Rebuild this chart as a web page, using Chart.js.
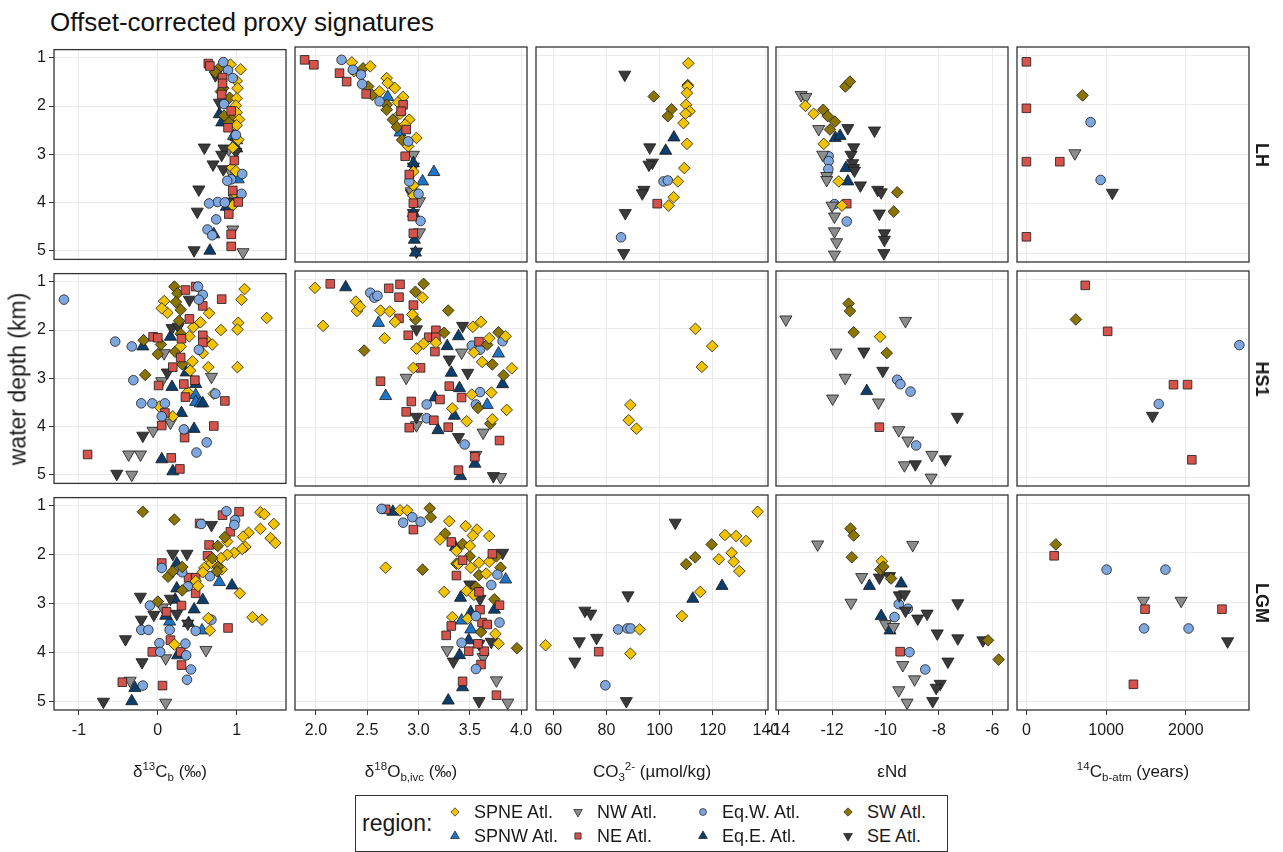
<!DOCTYPE html>
<html>
<head>
<meta charset="utf-8">
<script src="https://cdn.jsdelivr.net/npm/chart.js@4.4.1/dist/chart.umd.min.js"></script>
<style>
  body { margin: 0; background: #fff; font-family: "Liberation Sans", Arial, Helvetica, sans-serif; }
  #fig { position: relative; width: 1283px; height: 852px; overflow: hidden; background: #fff; }
  #fig canvas { position: absolute; }
  .txt { position: absolute; color: #1a1a1a; white-space: nowrap; line-height: 1; }
  sup, sub { font-size: 68%; line-height: 0; }
  #legend { position: absolute; left: 355px; top: 795px; width: 591px; height: 55px; border: 1px solid #333; background: #fff; }
</style>
</head>
<body>
<div id="fig"></div>
<script>
// regions (legend order) and how each one is drawn
const regionCodes = ['SPNE', 'SPNW', 'NW', 'NE', 'EqW', 'EqE', 'SW', 'SE'];
const regionNames = ['SPNE Atl.', 'SPNW Atl.', 'NW Atl.', 'NE Atl.', 'Eq.W. Atl.', 'Eq.E. Atl.', 'SW Atl.', 'SE Atl.'];
const regionColors = ['#F2C400', '#1E74C6', '#8C8C8C', '#D6534B', '#7EA7E0', '#0B3D6D', '#8B7400', '#3A3A3A'];
const regionShapes = ['rectRot', 'triangle', 'triangle', 'rect', 'circle', 'triangle', 'rectRot', 'triangle'];
const regionRotation = [0, 0, 180, 0, 0, 0, 0, 180];
const regionRadius = [5.8, 7, 7, 6.1, 4.8, 7, 5.8, 7];

const periods = ['LH', 'HS1', 'LGM'];
const depthTicks = [1, 2, 3, 4, 5];
const d13cTicks = [-1, 0, 1];
const d18oTicks = [2.0, 2.5, 3.0, 3.5, 4.0];
const co3Ticks = [60, 80, 100, 120, 140];
const endTicks = [-14, -12, -10, -8, -6];
const c14Ticks = [0, 1000, 2000];

// [region, [[proxy value, water depth km], ...]]
const lhD13C = [
  ['NE', [[0.64, 1.12], [0.66, 1.17], [0.82, 1.41], [0.82, 1.53], [0.81, 1.76], [0.93, 2.10], [0.89, 2.45], [0.97, 3.13], [0.95, 3.75], [1.02, 3.99], [0.90, 4.24], [0.93, 4.66], [0.93, 4.91]]],
  ['EqW', [[0.83, 1.09], [0.89, 1.26], [0.95, 1.42], [0.84, 1.96], [0.99, 2.60], [1.07, 3.41], [0.93, 3.52], [0.88, 3.55], [1.06, 3.82], [0.76, 3.99], [0.65, 4.02], [0.85, 4.00], [0.74, 4.35], [0.63, 4.56], [0.69, 4.68]]],
  ['SPNE', [[0.92, 1.14], [1.05, 1.24], [1.00, 1.48], [1.01, 1.63], [1.00, 1.84], [0.99, 1.99], [1.00, 2.13], [1.03, 2.28], [1.00, 2.40], [0.95, 2.86], [0.94, 3.28], [0.99, 3.35], [0.95, 4.06], [0.97, 3.80], [1.02, 2.70]]],
  ['SW', [[0.78, 1.21], [0.73, 1.30], [0.83, 1.63], [0.91, 1.83], [0.95, 2.23], [0.90, 2.34], [0.84, 2.20], [0.80, 1.70]]],
  ['SE', [[0.73, 1.36], [0.78, 1.93], [0.59, 2.86], [0.84, 2.88], [0.81, 3.01], [0.70, 3.21], [0.83, 3.31], [0.52, 3.73], [0.50, 4.19], [0.46, 4.99], [0.99, 2.95], [0.93, 3.98]]],
  ['NW', [[0.95, 4.56], [1.08, 5.03], [0.93, 3.38], [0.97, 3.92], [0.90, 2.90]]],
  ['EqE', [[0.78, 2.17], [0.81, 2.34], [0.99, 2.64], [1.00, 2.88], [0.87, 4.09], [0.71, 4.66], [0.66, 5.00]]],
  ['SPNW', [[1.00, 2.71], [1.02, 3.52], [0.96, 2.62]]]
];
const lhD18O = [
  ['NE', [[1.89, 1.09], [1.98, 1.19], [2.23, 1.36], [2.30, 1.53], [2.49, 1.78], [2.85, 2.00], [2.83, 2.13], [2.88, 2.50], [2.87, 3.04], [2.91, 3.41], [2.95, 3.99], [2.94, 4.26], [2.95, 4.60]]],
  ['EqW', [[2.25, 1.09], [2.36, 1.29], [2.44, 1.39], [2.45, 1.58], [2.62, 1.93], [2.90, 2.74], [2.91, 3.55], [3.00, 3.80], [3.02, 4.35]]],
  ['SPNE', [[2.35, 1.14], [2.53, 1.22], [2.37, 1.32], [2.69, 1.46], [2.70, 1.56], [2.77, 1.66], [2.62, 1.73], [2.85, 1.84], [2.80, 1.95], [2.82, 2.18], [2.91, 2.30], [2.87, 2.40], [2.98, 2.67], [2.90, 2.84], [2.95, 3.35], [2.95, 3.63], [2.95, 3.84]]],
  ['SW', [[2.46, 1.26], [2.51, 1.63], [2.55, 1.80], [2.69, 2.00], [2.69, 2.10], [2.75, 2.30], [2.79, 2.45], [2.84, 2.71]]],
  ['SPNW', [[2.70, 1.84], [2.82, 2.56], [3.15, 3.36], [3.04, 3.55]]],
  ['EqE', [[2.95, 3.18], [2.96, 4.73], [2.97, 4.99], [2.95, 4.19]]],
  ['NW', [[2.95, 3.01], [3.01, 3.95], [3.01, 4.58], [2.93, 3.75]]],
  ['SE', [[2.95, 4.19], [2.98, 4.97], [2.93, 3.79], [2.95, 3.25]]]
];
const lhCO3 = [
  ['SPNE', [[110.8, 1.16], [110.6, 1.63], [110.3, 1.76], [110.0, 2.00], [111.3, 2.13], [109.8, 2.18], [109.0, 2.37], [110.3, 2.79], [109.3, 3.28], [106.9, 3.55], [105.3, 3.87], [103.4, 4.04]]],
  ['SW', [[97.8, 1.83], [104.5, 2.09], [103.1, 2.23], [110.6, 1.60]]],
  ['SE', [[86.9, 1.39], [96.3, 2.86], [97.3, 3.17], [96.0, 3.21], [94.1, 3.72], [93.5, 3.79], [87.1, 4.19], [86.5, 5.00]]],
  ['EqE', [[105.4, 2.66], [102.3, 2.93]]],
  ['EqW', [[101.5, 3.55], [103.1, 3.53], [85.5, 4.68]]],
  ['NE', [[99.1, 4.00]]]
];
const lhENd = [
  ['SW', [[-11.50, 1.63], [-11.33, 1.53], [-12.33, 2.10], [-12.16, 2.23], [-11.89, 2.34], [-12.08, 2.50], [-9.56, 3.77], [-9.69, 4.16]]],
  ['SPNE', [[-13.00, 2.02], [-12.69, 2.18], [-12.31, 2.79], [-11.75, 3.55], [-11.63, 4.04]]],
  ['NW', [[-13.16, 1.80], [-12.98, 1.84], [-12.50, 2.49], [-12.35, 3.01], [-12.20, 3.44], [-12.20, 3.52], [-12.00, 4.04], [-11.91, 4.26], [-11.91, 4.56], [-11.83, 4.78], [-11.91, 5.03]]],
  ['SE', [[-11.41, 2.47], [-10.41, 2.52], [-11.19, 2.86], [-11.29, 3.01], [-11.23, 3.18], [-11.20, 3.28], [-11.16, 3.33], [-10.94, 3.63], [-10.29, 3.72], [-10.16, 3.77], [-10.23, 4.20], [-10.04, 4.60], [-10.04, 4.73], [-10.06, 5.00]]],
  ['EqE', [[-11.88, 2.67], [-11.70, 2.63], [-11.48, 3.28], [-11.41, 3.55]]],
  ['EqW', [[-12.13, 3.04], [-12.13, 3.14], [-12.14, 3.30], [-11.91, 4.01], [-11.45, 4.36]]],
  ['NE', [[-11.45, 4.00]]]
];
const lh14C = [
  ['NE', [[0, 1.13], [0, 2.07], [0, 3.15], [419, 3.15], [0, 4.67]]],
  ['SW', [[704, 1.81]]],
  ['EqW', [[805, 2.35], [931, 3.52]]],
  ['NW', [[608, 2.98]]],
  ['SE', [[1078, 3.78]]]
];

const hsD13C = [
  ['EqW', [[-1.19, 1.37], [-0.54, 2.24], [-0.33, 2.34], [-0.31, 3.04], [-0.21, 3.52], [-0.07, 3.52], [0.09, 3.52], [0.05, 3.79], [0.33, 4.06], [0.51, 1.10], [0.57, 1.27], [0.52, 1.37], [0.52, 2.41], [0.73, 3.32], [0.62, 4.33], [0.49, 4.54]]],
  ['NE', [[0.35, 1.17], [0.48, 1.10], [0.81, 1.36], [0.57, 1.50], [0.40, 1.77], [-0.06, 2.14], [0.00, 2.16], [0.30, 2.18], [0.57, 2.11], [0.57, 2.26], [0.29, 2.57], [0.19, 2.77], [0.33, 3.12], [0.47, 3.04], [0.01, 3.15], [0.35, 3.39], [0.85, 3.47], [0.09, 3.72], [0.05, 3.98], [0.71, 3.99], [0.34, 4.23], [-0.89, 4.58], [0.17, 4.65], [0.28, 4.88]]],
  ['SPNE', [[1.10, 1.15], [1.06, 1.37], [1.38, 1.75], [1.02, 1.85], [1.01, 1.99], [0.80, 2.00], [0.65, 1.65], [0.54, 1.84], [0.45, 1.94], [0.40, 2.13], [0.29, 2.34], [0.60, 2.19], [0.69, 2.30], [0.57, 2.48], [0.44, 2.65], [0.41, 2.84], [0.64, 2.77], [1.01, 2.77], [0.38, 3.29], [0.08, 1.40], [0.12, 1.64], [0.02, 3.59], [0.19, 3.79], [0.71, 3.32], [0.05, 1.55]]],
  ['SW', [[0.21, 1.10], [0.25, 1.24], [0.23, 1.42], [0.29, 1.58], [0.27, 1.81], [0.29, 2.08], [-0.18, 2.21], [0.04, 2.30], [0.00, 2.50], [0.22, 2.45], [0.31, 2.71], [-0.16, 2.93]]],
  ['SE', [[0.40, 1.37], [0.18, 1.96], [0.26, 1.93], [0.12, 2.88], [-0.19, 4.19], [-0.52, 4.98]]],
  ['NW', [[0.08, 2.48], [0.05, 3.06], [0.68, 2.97], [0.16, 3.92], [-0.06, 4.09], [-0.37, 4.58], [-0.22, 4.58], [-0.33, 5.00]]],
  ['EqE', [[0.16, 2.14], [-0.19, 2.34], [0.36, 2.88], [0.18, 3.18], [0.30, 3.72], [0.46, 4.05], [0.05, 4.68], [0.19, 4.93], [0.57, 3.52], [0.48, 3.12]]],
  ['SPNW', [[0.48, 3.35], [0.48, 3.49], [0.54, 3.52]]]
];
const hsD18O = [
  ['SPNE', [[1.99, 1.17], [2.07, 1.94], [2.39, 1.45], [2.40, 1.64], [2.43, 1.55], [2.63, 1.63], [2.72, 1.65], [2.77, 1.86], [2.67, 2.19], [3.04, 1.37], [2.94, 1.71], [2.98, 2.40], [3.05, 2.30], [3.17, 2.28], [2.95, 2.79], [3.53, 1.96], [3.61, 1.86], [3.69, 2.19], [3.54, 2.48], [3.62, 2.67], [3.85, 2.15], [3.91, 2.80], [3.52, 3.33], [3.71, 3.29], [3.33, 3.61], [3.47, 3.87], [3.86, 3.64], [3.72, 3.83]]],
  ['SW', [[3.05, 1.09], [2.97, 1.25], [3.29, 1.63], [2.97, 1.81], [2.47, 2.44], [3.25, 2.08], [3.78, 2.07], [3.67, 2.32], [3.72, 2.72], [3.83, 2.94], [3.58, 3.60], [3.70, 3.92]]],
  ['NE', [[2.14, 1.09], [2.71, 1.18], [2.82, 1.10], [2.81, 1.36], [2.95, 1.52], [2.81, 1.79], [2.90, 2.13], [3.10, 2.17], [3.17, 2.03], [3.17, 2.17], [3.16, 2.46], [3.02, 2.79], [2.63, 3.06], [2.93, 3.47], [2.88, 3.68], [2.91, 4.00], [3.15, 3.85], [3.21, 3.43], [3.29, 3.99], [3.30, 3.16], [3.42, 3.39], [3.59, 2.26], [3.79, 4.26], [3.55, 4.59], [3.39, 4.86]]],
  ['EqW', [[2.53, 1.27], [2.57, 1.37], [2.60, 1.33], [3.52, 2.34], [3.60, 2.42], [3.82, 2.25], [3.60, 3.28], [3.08, 3.53], [3.08, 3.81], [3.45, 4.34], [3.56, 3.53]]],
  ['EqE', [[2.29, 1.16], [3.39, 2.15], [3.28, 2.35], [3.32, 2.89], [3.40, 3.20], [3.35, 3.76], [3.19, 4.05], [3.82, 3.12], [3.55, 4.73], [3.41, 4.98], [3.16, 3.39]]],
  ['SPNW', [[2.61, 1.88], [2.68, 3.36], [3.78, 2.50], [3.67, 3.54]]],
  ['SE', [[2.98, 2.01], [3.43, 1.94], [3.30, 2.62], [3.48, 2.89], [2.98, 3.78], [3.39, 4.19], [3.73, 4.98]]],
  ['NW', [[2.88, 2.99], [3.42, 2.48], [2.98, 3.95], [3.63, 4.10], [3.80, 5.00], [3.56, 4.55]]]
];
const hsCO3 = [
  ['SPNE', [[113.5, 2.00], [119.8, 2.35], [115.9, 2.77], [89.0, 3.54], [88.4, 3.85], [91.3, 4.02]]]
];
const hsENd = [
  ['SW', [[-11.38, 1.49], [-11.33, 1.64], [-11.19, 2.07], [-9.95, 2.49]]],
  ['SPNE', [[-10.20, 2.16]]],
  ['NW', [[-13.73, 1.81], [-9.25, 1.84], [-11.85, 2.48], [-11.51, 2.99], [-11.98, 3.41], [-10.26, 3.49], [-9.50, 4.05], [-9.16, 4.26], [-8.26, 4.55], [-9.29, 4.76], [-8.29, 5.01]]],
  ['SE', [[-10.81, 2.46], [-10.10, 2.85], [-7.31, 3.78], [-8.88, 4.74], [-7.76, 4.64]]],
  ['EqE', [[-10.70, 3.26]]],
  ['EqW', [[-9.56, 3.03], [-9.44, 3.12], [-9.06, 3.27], [-8.85, 4.36]]],
  ['NE', [[-10.23, 3.99]]]
];
const hs14C = [
  ['NE', [[738, 1.12], [1019, 2.05], [1845, 3.13], [2021, 3.13], [2075, 4.65]]],
  ['SW', [[620, 1.81]]],
  ['EqW', [[2671, 2.33], [1660, 3.52]]],
  ['SE', [[1581, 3.76]]]
];

const lgmD13C = [
  ['SW', [[-0.19, 1.12], [0.21, 1.28], [0.85, 1.64], [0.76, 1.82], [0.69, 2.07], [0.76, 2.25], [0.75, 2.34], [0.13, 2.45], [0.19, 2.34], [0.31, 2.25], [0.31, 2.73], [0.00, 2.96]]],
  ['SPNE', [[1.30, 1.13], [1.35, 1.17], [1.47, 1.37], [1.30, 1.47], [1.15, 1.55], [1.08, 1.63], [1.43, 1.66], [1.49, 1.76], [1.11, 1.84], [1.07, 1.88], [0.97, 1.96], [0.88, 2.00], [0.88, 1.73], [0.80, 2.07], [0.66, 2.11], [0.68, 2.17], [0.59, 2.27], [0.57, 2.36], [0.81, 2.30], [0.48, 2.54], [0.51, 2.64], [1.04, 2.79], [1.20, 3.28], [1.32, 3.33], [0.64, 3.30], [0.66, 3.55], [0.21, 3.84]]],
  ['EqW', [[0.87, 1.11], [0.98, 1.29], [0.97, 1.39], [0.55, 1.37], [0.05, 2.27], [0.27, 2.30], [0.31, 2.36], [0.38, 2.65], [0.66, 2.44], [-0.10, 3.04], [-0.21, 3.54], [-0.12, 3.54], [0.15, 3.54], [0.48, 3.56], [0.68, 3.33], [0.02, 3.81], [0.03, 3.99], [0.35, 3.82], [0.36, 4.06], [0.42, 4.35], [0.37, 4.56], [-0.19, 4.68]]],
  ['NE', [[0.82, 1.19], [1.03, 1.12], [0.92, 1.53], [0.65, 1.80], [0.63, 2.02], [0.05, 2.17], [0.39, 2.47], [0.48, 2.47], [0.48, 2.79], [0.30, 3.04], [0.11, 3.17], [0.89, 3.50], [0.16, 3.75], [-0.07, 3.99], [0.29, 3.99], [0.30, 4.26], [-0.45, 4.61], [0.06, 4.68], [0.53, 1.36]]],
  ['SE', [[0.68, 1.39], [0.19, 1.98], [0.37, 1.98], [-0.22, 2.86], [-0.05, 3.23], [0.16, 2.90], [0.24, 3.21], [-0.21, 3.33], [-0.41, 3.73], [-0.20, 4.20], [-0.69, 5.01], [0.38, 3.41]]],
  ['NW', [[0.06, 3.08], [0.10, 4.12], [0.61, 3.95], [-0.35, 4.58], [0.10, 5.03]]],
  ['EqE', [[0.24, 2.18], [0.24, 2.69], [0.22, 2.92], [0.57, 2.93], [0.46, 3.12], [0.39, 3.40], [0.10, 3.25], [0.25, 4.06], [-0.29, 4.73], [-0.33, 5.00], [0.94, 2.63]]],
  ['SPNW', [[0.78, 2.56], [0.15, 3.37], [0.56, 3.55]]]
];
const lgmD18O = [
  ['EqW', [[2.64, 1.11], [2.85, 1.39], [2.94, 1.28], [3.02, 1.37], [3.77, 2.44], [3.71, 2.65], [3.56, 3.28], [3.79, 3.41], [3.42, 3.82], [3.56, 4.35]]],
  ['NE', [[2.68, 1.12], [2.95, 1.53], [3.32, 1.78], [3.43, 2.15], [3.37, 2.46], [3.72, 2.02], [3.59, 2.79], [3.79, 3.06], [3.60, 3.15], [3.32, 3.48], [3.27, 3.67], [3.62, 3.41], [3.67, 3.45], [3.49, 3.99], [3.64, 3.99], [3.61, 4.26], [3.58, 3.84], [3.43, 4.60], [3.76, 4.88]]],
  ['SPNE', [[2.82, 1.14], [2.89, 1.14], [3.30, 1.36], [3.46, 1.46], [3.57, 1.53], [3.53, 1.65], [3.69, 1.66], [3.21, 1.73], [3.50, 1.86], [3.37, 1.96], [2.68, 2.30], [3.39, 2.22], [3.51, 2.30], [3.59, 2.20], [3.69, 2.18], [3.66, 2.42], [3.25, 2.79], [3.47, 2.77], [3.54, 2.85], [3.33, 3.30], [3.48, 3.33], [3.75, 3.64], [3.78, 3.84]]],
  ['SW', [[3.11, 1.10], [3.12, 1.28], [3.26, 1.61], [3.43, 1.82], [3.50, 2.07], [3.37, 2.22], [3.59, 2.45], [3.80, 2.30], [3.76, 2.07], [3.04, 2.34], [3.56, 2.69], [3.74, 2.94], [3.61, 3.60], [3.96, 3.93]]],
  ['EqE', [[2.75, 1.17], [3.36, 1.88], [3.41, 2.91], [3.51, 3.20], [3.74, 3.15], [3.49, 3.77], [3.40, 4.07], [3.43, 4.72], [3.29, 4.99]]],
  ['SPNW', [[3.85, 2.54], [3.42, 3.37], [3.51, 3.55]]],
  ['SE', [[3.82, 2.00], [3.50, 2.64], [3.60, 2.93], [3.71, 3.80], [3.59, 3.84], [3.34, 4.20], [3.59, 5.00]]],
  ['NW', [[3.28, 3.97], [3.63, 4.11], [3.76, 4.58], [3.87, 5.03]]]
];
const lgmCO3 = [
  ['SPNE', [[136.9, 1.17], [124.6, 1.64], [128.8, 1.66], [132.5, 1.76], [127.1, 2.00], [122.3, 2.13], [127.9, 2.18], [130.0, 2.37], [115.3, 2.79], [108.4, 3.28], [92.5, 3.55], [89.0, 4.04], [57.1, 3.87]]],
  ['SW', [[119.6, 1.83], [113.4, 2.09], [110.0, 2.23]]],
  ['EqE', [[123.5, 2.67], [112.5, 2.93]]],
  ['SE', [[105.9, 1.39], [88.1, 2.86], [71.9, 3.17], [74.1, 3.23], [76.3, 3.72], [69.8, 3.79], [68.1, 4.20], [87.5, 5.00]]],
  ['EqW', [[84.4, 3.55], [87.9, 3.53], [89.1, 3.53], [79.6, 4.68]]],
  ['NE', [[77.1, 4.00]]]
];
const lgmENd = [
  ['SW', [[-11.31, 1.51], [-11.19, 1.65], [-11.26, 2.09], [-10.19, 2.34], [-10.08, 2.28], [-9.79, 2.52], [-6.16, 3.77], [-5.76, 4.16]]],
  ['SPNE', [[-10.14, 2.17]]],
  ['NW', [[-12.54, 1.83], [-8.98, 1.84], [-10.89, 2.49], [-11.29, 3.01], [-10.00, 3.44], [-9.70, 3.50], [-9.35, 4.27], [-8.91, 4.56], [-9.50, 4.78], [-9.19, 5.03]]],
  ['SE', [[-10.23, 2.50], [-9.85, 2.47], [-9.48, 2.86], [-9.29, 2.84], [-9.25, 3.17], [-8.79, 3.33], [-8.44, 3.23], [-7.29, 3.02], [-8.06, 3.63], [-7.29, 3.73], [-6.35, 3.77], [-7.66, 4.20], [-7.95, 4.65], [-8.10, 4.73], [-8.23, 5.00]]],
  ['EqE', [[-10.60, 2.67], [-9.41, 2.62], [-10.16, 3.28], [-9.83, 3.57]]],
  ['EqW', [[-9.50, 3.04], [-9.16, 3.13], [-9.66, 3.30], [-9.10, 4.01], [-8.51, 4.36]]],
  ['NE', [[-9.45, 4.00]]]
];
const lgm14C = [
  ['SW', [[369, 1.83]]],
  ['NE', [[348, 2.06], [1488, 3.14], [2453, 3.14], [1342, 4.66]]],
  ['EqW', [[1006, 2.34], [1744, 2.34], [1476, 3.53], [2034, 3.53]]],
  ['NW', [[1468, 2.97], [1941, 2.97]]],
  ['SE', [[2524, 3.79]]]
];

const panelRows = [
  [lhD13C, lhD18O, lhCO3, lhENd, lh14C],
  [hsD13C, hsD18O, hsCO3, hsENd, hs14C],
  [lgmD13C, lgmD18O, lgmCO3, lgmENd, lgm14C]
];
const xTicks = [d13cTicks, d18oTicks, co3Ticks, endTicks, c14Ticks];
const xRanges = [[-1.316, 1.625], [1.796, 4.058], [53.5, 140.8], [-14.1, -5.41], [-118, 2792]];
const depthRange = [0.83, 5.18];
const xTitles = [
  '&delta;<sup>13</sup>C<sub>b</sub> (&permil;)',
  '&delta;<sup>18</sup>O<sub>b,ivc</sub> (&permil;)',
  'CO<sub>3</sub><sup>2-</sup> (&micro;mol/kg)',
  '&epsilon;Nd',
  '<sup>14</sup>C<sub>b-atm</sub> (years)'
];

// panel grid geometry
const colX = [54, 295, 536, 776, 1017];
const rowY = [47, 271, 495];
const PW = 232, PH = 215;
const FONT = '"Liberation Sans", Arial, Helvetica, sans-serif';
Chart.defaults.font.family = FONT;

const fig = document.getElementById('fig');

function addText(html, x, y, css) {
  const d = document.createElement('div');
  d.className = 'txt';
  d.innerHTML = html;
  d.style.left = x + 'px';
  d.style.top = y + 'px';
  Object.assign(d.style, css || {});
  fig.appendChild(d);
  return d;
}

function tickText(c, v) {
  if (c === 1) return v.toFixed(1);
  return String(v);
}

// black frame around each facet
const panelBox = {
  id: 'panelBox',
  afterDatasetsDraw(chart) {
    const a = chart.chartArea, ctx = chart.ctx;
    ctx.save();
    ctx.strokeStyle = '#333';
    ctx.lineWidth = 1.3;
    ctx.strokeRect(a.left, a.top, a.right - a.left, a.bottom - a.top);
    ctx.restore();
  }
};

function makePanel(r, c) {
  const bottom = r === periods.length - 1;
  const first = c === 0;
  const padL = first ? 0 : 20;
  const yW = first ? 54 : 0;
  const xH = bottom ? 30 : 0;
  const cv = document.createElement('canvas');
  cv.width = padL + yW + PW + 20;
  cv.height = 10 + PH + xH + 10;
  cv.style.left = (colX[c] - padL - yW) + 'px';
  cv.style.top = (rowY[r] - 10) + 'px';
  fig.appendChild(cv);

  const datasets = panelRows[r][c].map(([code, pts]) => {
    const i = regionCodes.indexOf(code);
    return {
      label: regionNames[i],
      data: pts.map(([x, y]) => ({ x, y })),
      pointStyle: regionShapes[i],
      pointRotation: regionRotation[i],
      pointRadius: regionRadius[i],
      pointHoverRadius: regionRadius[i],
      backgroundColor: regionColors[i],
      borderColor: '#1a1a1a',
      borderWidth: 0.8
    };
  });

  new Chart(cv, {
    type: 'scatter',
    data: { datasets },
    options: {
      responsive: false,
      animation: false,
      events: [],
      layout: { padding: { left: padL, right: 20, top: 10, bottom: 10 } },
      plugins: { legend: { display: false }, tooltip: { enabled: false } },
      scales: {
        x: {
          type: 'linear',
          min: xRanges[c][0],
          max: xRanges[c][1],
          afterBuildTicks: s => { s.ticks = xTicks[c].map(v => ({ value: v })); },
          afterFit: s => { s.height = xH; },
          ticks: {
            display: bottom, autoSkip: false, maxRotation: 0, padding: 6,
            color: '#1a1a1a', font: { size: 16 },
            callback: v => tickText(c, v)
          },
          grid: { color: '#ebebeb', lineWidth: 1, drawTicks: bottom, tickLength: 5, tickColor: '#333' },
          border: { display: false }
        },
        y: {
          type: 'linear',
          reverse: true,
          min: depthRange[0],
          max: depthRange[1],
          afterBuildTicks: s => { s.ticks = depthTicks.map(v => ({ value: v })); },
          afterFit: s => { s.width = yW; },
          ticks: { display: first, padding: 3, color: '#1a1a1a', font: { size: 16 } },
          grid: { color: '#ebebeb', lineWidth: 1, drawTicks: first, tickLength: 5, tickColor: '#333' },
          border: { display: false }
        }
      }
    },
    plugins: [panelBox]
  });
}

for (let r = 0; r < periods.length; r++) {
  for (let c = 0; c < xTicks.length; c++) makePanel(r, c);
  // facet strip on the right
  addText('<b>' + periods[r] + '</b>', 1262, rowY[r] + PH / 2,
    { fontSize: '18px', transform: 'translate(-50%, -50%) rotate(90deg)' });
}

// titles
addText('Offset-corrected proxy signatures', 50, 9, { fontSize: '26px', color: '#111' });
addText('water depth (km)', 18, (rowY[0] + rowY[2] + PH) / 2,
  { fontSize: '23px', transform: 'translate(-50%, -50%) rotate(-90deg)' });
xTitles.forEach((t, c) => {
  addText(t, colX[c] + PW / 2, 771, { fontSize: '17px', transform: 'translate(-50%, -50%)' });
});

// legend, two rows, filled column by column
const legend = document.createElement('div');
legend.id = 'legend';
fig.appendChild(legend);
addText('region:', 362, 823, { fontSize: '23px', transform: 'translateY(-50%)' });
const legSymX = [455, 578, 703, 848];
const legRowY = [812, 836];
regionNames.forEach((name, i) => {
  const col = Math.floor(i / 2), row = i % 2;
  const cv = document.createElement('canvas');
  cv.width = 16; cv.height = 16;
  cv.style.left = (legSymX[col] - 8) + 'px';
  cv.style.top = (legRowY[row] - 8) + 'px';
  fig.appendChild(cv);
  const ctx = cv.getContext('2d');
  ctx.fillStyle = regionColors[i];
  ctx.strokeStyle = '#1a1a1a';
  ctx.lineWidth = 0.7;
  if (Chart.helpers && Chart.helpers.drawPoint) {
    Chart.helpers.drawPoint(ctx, {
      pointStyle: regionShapes[i], rotation: regionRotation[i],
      radius: regionRadius[i] * 0.72, borderWidth: 0.7
    }, 8, 8);
  }
  addText(name, legSymX[col] + 19, legRowY[row], { fontSize: '18px', transform: 'translateY(-50%)' });
});
</script>
</body>
</html>
